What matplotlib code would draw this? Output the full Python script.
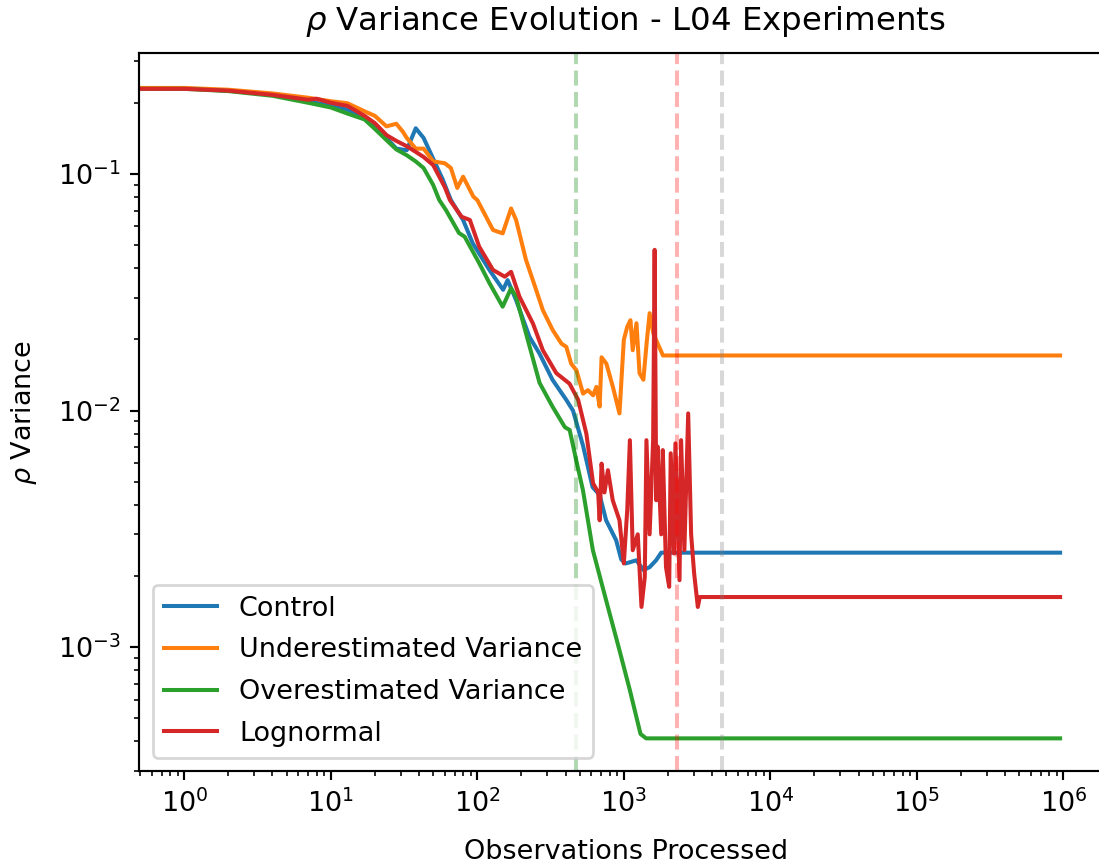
import matplotlib
matplotlib.use("Agg")
import matplotlib.pyplot as plt

# ---- data ----
control_x = [0, 1, 2, 4, 7, 10, 13, 17, 20, 24, 28, 33, 35, 38, 43, 50, 58, 66, 80, 93,
             121, 150, 161, 184, 227, 266, 326, 405, 450, 527, 612, 684, 757, 887, 960,
             1030, 1218, 1362, 1500, 1660, 1800, 950000]
control_y = [0.231, 0.230, 0.225, 0.216, 0.203, 0.195, 0.187, 0.174, 0.159, 0.142, 0.128,
             0.126, 0.138, 0.156, 0.142, 0.116, 0.095, 0.0776, 0.0639, 0.0510, 0.0393,
             0.0324, 0.0356, 0.0293, 0.0205, 0.0174, 0.0135, 0.0111, 0.0100, 0.00710,
             0.00475, 0.00440, 0.00344, 0.00283, 0.00235, 0.00226, 0.00233, 0.00212,
             0.00218, 0.00233, 0.00251, 0.00251]

under_x = [0, 1, 2, 4, 7, 10, 13, 17, 20, 24, 28, 31, 33, 38, 43, 50, 60, 66, 73, 80,
           94, 100, 128, 149, 170, 184, 215, 252, 280, 327, 375, 405, 437, 475, 527,
           569, 617, 650, 684, 705, 760, 842, 934, 1000, 1055, 1110, 1150, 1220, 1280,
           1360, 1430, 1500, 1590, 1660, 1850, 950000]
under_y = [0.232, 0.231, 0.227, 0.219, 0.210, 0.203, 0.199, 0.184, 0.176, 0.159, 0.163,
           0.151, 0.142, 0.128, 0.128, 0.113, 0.111, 0.106, 0.0873, 0.0974, 0.0802,
           0.0776, 0.0580, 0.0561, 0.0715, 0.0639, 0.0433, 0.0324, 0.0266, 0.0219,
           0.0192, 0.0186, 0.0158, 0.0148, 0.0118, 0.0122, 0.0116, 0.0126, 0.0104,
           0.0168, 0.0158, 0.0126, 0.00973, 0.0199, 0.0226, 0.0241, 0.0180, 0.0234,
           0.0144, 0.0135, 0.0192, 0.0258, 0.0212, 0.0199, 0.0171, 0.0171]

over_x = [0, 1, 2, 4, 7, 10, 13, 17, 20, 24, 28, 33, 38, 43, 50, 55, 61, 75, 82, 103,
          121, 149, 170, 184, 215, 266, 326, 396, 427, 473, 526, 615, 757, 934, 1100,
          1300, 1420, 950000]
over_y = [0.230, 0.229, 0.224, 0.214, 0.200, 0.191, 0.180, 0.170, 0.155, 0.139, 0.127,
          0.120, 0.113, 0.106, 0.0898, 0.0776, 0.0705, 0.0563, 0.0543, 0.0420, 0.0346,
          0.0275, 0.0329, 0.0303, 0.0212, 0.0131, 0.0104, 0.00851, 0.00828, 0.00618,
          0.00461, 0.00257, 0.00158, 0.000971, 0.000658, 0.000430, 0.000412, 0.000412]

logn_x = [0, 1, 2, 4, 7, 8, 10, 13, 17, 20, 24, 28, 33, 38, 43, 50, 60, 65, 78, 89,
          103, 128, 154, 170, 194, 240, 280, 346, 426, 488, 555, 617, 668, 684, 705,
          738, 779, 840, 934, 1000, 1055, 1100, 1150, 1245, 1320, 1390, 1427, 1500,
          1585, 1623, 1665, 1700, 1800, 1845, 1940, 2040, 2090, 2200, 2250, 2400,
          2460, 2590, 2750, 2880, 3020, 3200, 3300, 950000]
logn_y = [0.230, 0.229, 0.225, 0.216, 0.206, 0.208, 0.200, 0.194, 0.176, 0.164, 0.146,
          0.138, 0.131, 0.124, 0.118, 0.109, 0.088, 0.0776, 0.0660, 0.0639, 0.0493,
          0.0393, 0.0368, 0.0386, 0.0303, 0.0233, 0.0180, 0.0144, 0.0130, 0.0111,
          0.00799, 0.00493, 0.00451, 0.00344, 0.00597, 0.00451, 0.00560, 0.00418,
          0.00344, 0.00226, 0.00380, 0.00750, 0.00257, 0.00300, 0.00148, 0.00198,
          0.00750, 0.00300, 0.00750, 0.0478, 0.00418, 0.00705, 0.00300, 0.00681,
          0.00218, 0.00180, 0.00660, 0.00249, 0.00727, 0.00192, 0.00750, 0.00257,
          0.00973, 0.00300, 0.00205, 0.00148, 0.00163, 0.00163]

series_labels = ["Control", "Underestimated Variance", "Overestimated Variance", "Lognormal"]
series_colors = ["tab:blue", "tab:orange", "tab:green", "tab:red"]

vline_x = [471, 2296, 4677]
vline_colors = ["green", "red", "gray"]

# ---- figure ----
W, H, DPI = 1099, 865, 194
fig = plt.figure(figsize=(W / DPI, H / DPI), dpi=DPI)
left, right, top, bottom = 139.3, 1112, 53.3, 771
ax = fig.add_axes([left / W, (H - bottom) / H, (right - left) / W, (bottom - top) / H])

all_x = [control_x, under_x, over_x, logn_x]
all_y = [control_y, under_y, over_y, logn_y]
for xs, ys, lab, col in zip(all_x, all_y, series_labels, series_colors):
    ax.plot(xs, ys, color=col, label=lab, linewidth=1.5)

ax.set_xscale("log")
ax.set_yscale("log")

for vx, vc in zip(vline_x, vline_colors):
    ax.axvline(vx, color=vc, linestyle="--", alpha=0.3, linewidth=1.5)

ax.set_xlim(10 ** -0.307, 10 ** 6.332)
ax.set_ylim(10 ** -3.523, 10 ** -0.490)

ax.set_title(r"$\rho$ Variance Evolution - L04 Experiments", pad=8.5)
ax.set_xlabel("Observations Processed", labelpad=7.5)
ax.set_ylabel(r"$\rho$ Variance", labelpad=7)
ax.legend(loc="lower left", labelspacing=0.58)

fig.savefig("out.png", dpi=DPI)
